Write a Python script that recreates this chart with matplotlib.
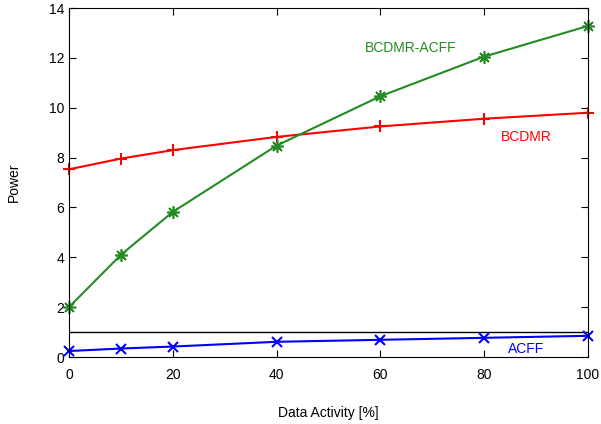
import matplotlib.pyplot as plt

plt.rcParams['font.family'] = ['Liberation Sans', 'DejaVu Sans']

activity = [0, 10, 20, 40, 60, 80, 100]
bcdmr = [7.53, 7.96, 8.30, 8.83, 9.25, 9.56, 9.80]
bcdmr_acff = [2.0, 4.1, 5.82, 8.48, 10.46, 12.05, 13.28]
acff = [0.24, 0.34, 0.42, 0.61, 0.69, 0.77, 0.85]
threshold = 1.0

fig = plt.figure(figsize=(6.01, 4.24), dpi=100)
ax = fig.add_axes([0.1148, 0.158, 0.8632, 0.823])

ax.axhline(threshold, color='black', linewidth=1.0)
ax.plot(activity, bcdmr, color='red', linewidth=1.5, marker='+', markersize=9,
        markeredgewidth=1.5, clip_on=False)
ax.plot(activity, bcdmr_acff, color='#228B22', linewidth=1.5, marker=(8, 2, 0),
        markersize=9, markeredgewidth=1.2, clip_on=False)
ax.plot(activity, acff, color='blue', linewidth=1.5, marker='x', markersize=7,
        markeredgewidth=1.5, clip_on=False)

ax.text(65.9, 12.38, 'BCDMR-ACFF', color='#228B22', fontsize=10, ha='center', va='center')
ax.text(88.2, 8.84, 'BCDMR', color='red', fontsize=10, ha='center', va='center')
ax.text(88.2, 0.31, 'ACFF', color='blue', fontsize=10, ha='center', va='center')

ax.set_xlim(0, 100)
ax.set_ylim(0, 14)
ax.set_xticks(range(0, 101, 20))
ax.set_yticks(range(0, 15, 2))
ax.tick_params(direction='in', top=True, right=True, labelsize=10, length=5)
ax.tick_params(axis='x', pad=8)
ax.set_xlabel('Data Activity [%]', fontsize=10, labelpad=17)
ax.set_ylabel('Power', fontsize=10, labelpad=20)

fig.savefig('out.png', dpi=100)
